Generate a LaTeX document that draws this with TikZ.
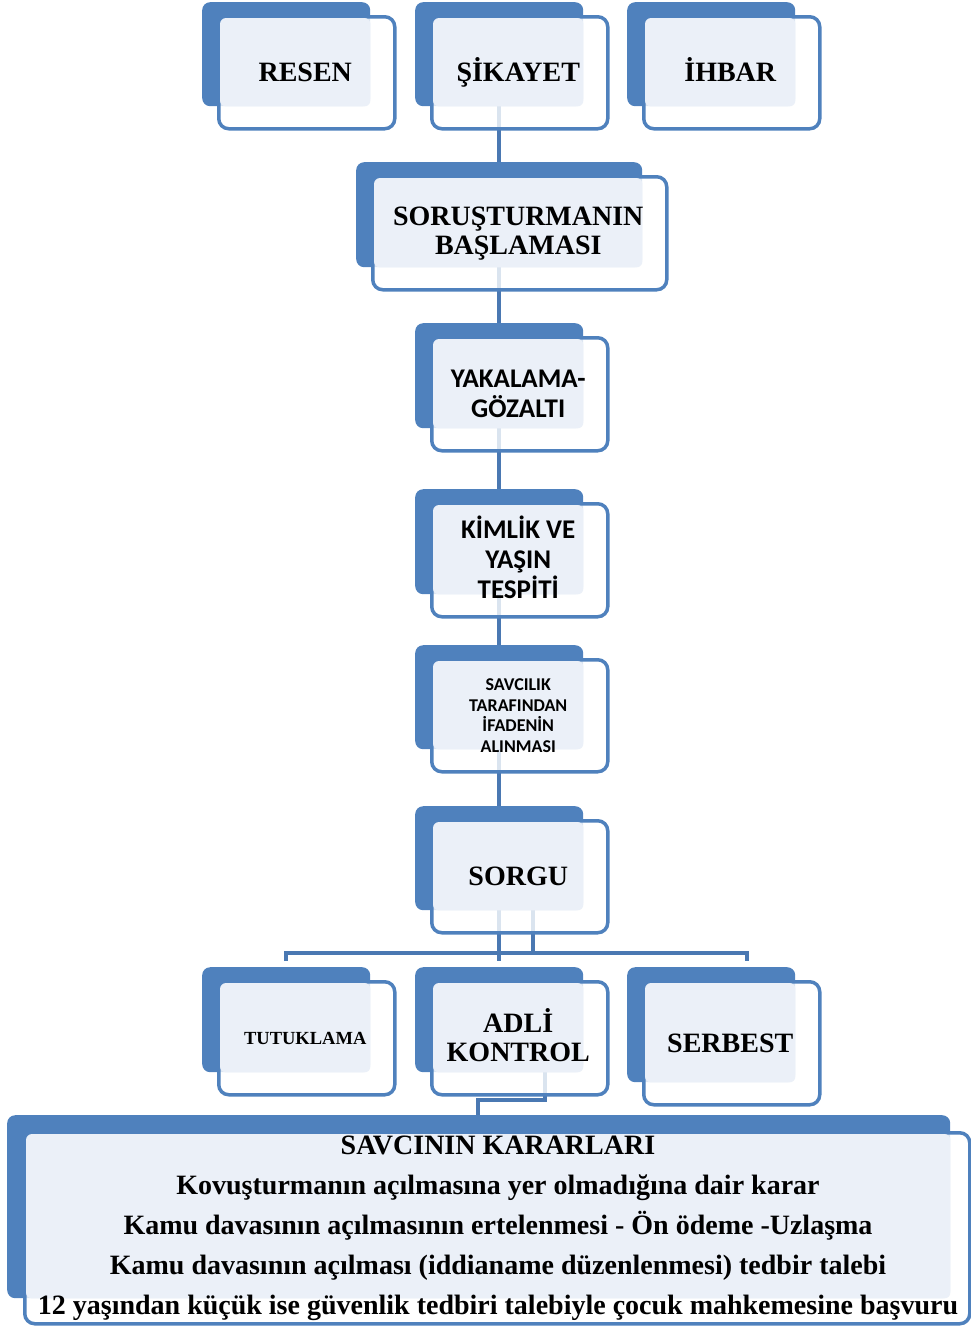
\documentclass[tikz,border=0pt]{standalone}
\usepackage{fontspec}
\setmainfont{Liberation Serif}
\newfontfamily\calfont{Carlito}
\usetikzlibrary{backgrounds}

\definecolor{mavi}{HTML}{4F81BD}
\definecolor{acikmavi}{HTML}{EBF0F8}
\definecolor{hatmavi}{HTML}{4A78B2}

\tikzset{
  arka/.style={fill=mavi, rounded corners=8pt, inner sep=0pt},
  on/.style={fill=white, fill opacity=0.8, draw=mavi, draw opacity=1, line width=3.5pt, rounded corners=10pt, inner sep=0pt},
  acik/.style={fill=acikmavi, rounded corners=6pt},
  hat/.style={draw=hatmavi, line width=4pt},
  kalin/.style={font=\fontsize{28}{29}\selectfont\bfseries, align=center},
  kalinkucuk/.style={font=\fontsize{18.5}{20}\selectfont\bfseries, align=center},
  sans/.style={font=\calfont\fontsize{27}{30}\selectfont\bfseries, align=center},
  sanskucuk/.style={font=\calfont\fontsize{18}{20.5}\selectfont\bfseries, align=center},
  karar/.style={font=\fontsize{28}{40}\selectfont\bfseries, align=center}
}

% #1 name, #2 #3 top left of the back box, #4 #5 its size, #6 text style, #7 text
\newcommand{\kutu}[7]{%
  \node[arka, minimum width=#4, minimum height=#5, anchor=north west] (#1-a) at (#2,#3) {};
  \node[on, minimum width=#4+8, minimum height=#5+8, anchor=north west] (#1) at (#2+15,#3+13) {};
  \fill[acik] ([shift={(3pt,-3pt)}]#1.north west) rectangle (#1-a.south east);
  \node[#6] (#1-y) at ([xshift=-1.5pt]#1.center) {#7};
}

\begin{document}
\begin{tikzpicture}[x=1pt, y=-1pt]
\useasboundingbox (0,0) rectangle (970,1326);

% Top row
\kutu{resen}{202}{2}{168}{104}{kalin}{RESEN}
\kutu{sikayet}{415}{2}{168}{104}{kalin}{ŞİKAYET}
\kutu{ihbar}{627}{2}{168}{104}{kalin}{\smash{İ}HBAR}

% Middle column
\kutu{sorus}{356}{162}{286}{105}{kalin}{SORUŞTURMANIN\\BAŞLAMASI}
\kutu{yakalama}{415}{323}{168}{105}{sans}{YAKALAMA-\\GÖZALTI}
\kutu{kimlik}{415}{489}{168}{105}{sans}{K\smash{İ}ML\smash{İ}K VE\\YAŞIN\\TESPİTİ}
\kutu{savcilik}{415}{645}{168}{104}{sanskucuk}{SAVCILIK\\TARAFINDAN\\İFADENİN\\ALINMASI}
\kutu{sorgu}{415}{806}{168}{104}{kalin}{SORGU}

% Bottom row
\kutu{tutuklama}{202}{967}{168}{105}{kalinkucuk}{TUTUKLAMA}
\kutu{adli}{415}{967}{168}{105}{kalin}{ADL\smash{İ}\\KONTROL}
\kutu{serbest}{627}{967}{168}{115}{kalin}{SERBEST}

% Decisions box
\node[arka, minimum width=943, minimum height=183, anchor=north west] (karar-a) at (7,1115) {};
\node[on, minimum width=945, minimum height=191, anchor=north west] (karar) at (23,1131) {};
\fill[acik] ([shift={(3pt,-3pt)}]karar.north west) rectangle (karar-a.south east);
\node[karar] (karar-y) at (498,1228) {SAVCININ KARARLARI\\
  Kovuşturmanın açılmasına yer olmadığına dair karar\\
  Kamu davasının açılmasının ertelenmesi - Ön ödeme -Uzlaşma\\
  Kamu davasının açılması (iddianame düzenlenmesi) tedbir talebi\\
  12 yaşından küçük ise güvenlik tedbiri talebiyle çocuk mahkemesine başvuru};

% Connectors
\coordinate (bus-sol) at (286,961);
\coordinate (bus-sag) at (747,961);
\coordinate (bus-ust) at (499,953);
\coordinate (sorgu-sag) at (533,910);
\coordinate (adli-kol) at (478,1100);
\begin{scope}[on background layer]
\draw[hat] (sikayet-a.center) -- (sorgu-a.center);
\draw[hat] (sorgu-a.center) -- (sorgu-a.center |- bus-sol);
\draw[hat] (sorgu-sag) -- (sorgu-sag |- bus-ust);
\draw[hat] (bus-sol) -- ++(0,-8) -- ([yshift=8pt]bus-sag) -- (bus-sag);
\draw[hat] ([xshift=46pt]adli-a.south) |- (adli-kol) -- (adli-kol |- karar-a.north);
\end{scope}
\end{tikzpicture}
\end{document}
